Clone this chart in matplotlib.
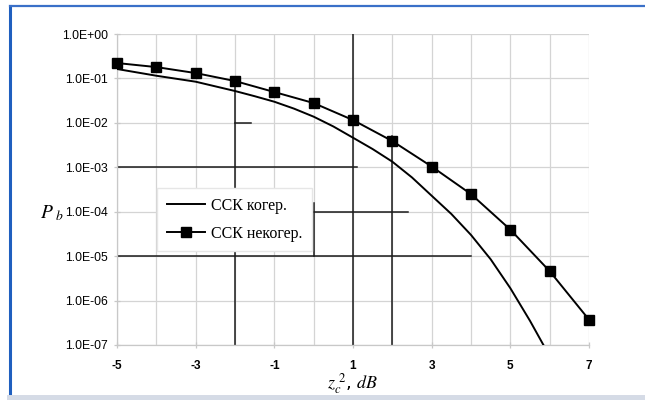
import numpy as np
import matplotlib
matplotlib.use("Agg")
import matplotlib.pyplot as plt
from matplotlib.lines import Line2D

plt.rcParams["mathtext.fontset"] = "stix"

# z_c^2, dB
snr_db = [-5, -4, -3, -2, -1, 0, 1, 2, 3, 4, 5, 6, 7]
# coherent (line only); the last point falls below the axis
coh_x = [-5, -4, -3, -2, -1.5, -1, -0.5, 0, 0.5, 1, 1.5, 2, 2.5, 3, 3.5,
         4, 4.5, 5, 5.5, 6]
coh = [0.163, 0.115, 0.0844, 0.0521, 0.0398, 0.0299, 0.0209, 0.01377, 0.0083,
       0.00463, 0.00257, 0.001336, 5.9e-4, 2.29e-4, 8.9e-5, 3.0e-5, 8.5e-6,
       1.9e-6, 3.5e-7, 5.6e-8]
# non-coherent (squares)
noncoh = [0.222, 0.18, 0.132, 0.0874, 0.0494, 0.0279, 0.01156, 0.00389,
          0.00104, 2.49e-4, 3.95e-5, 4.59e-6, 3.72e-7]

ytick_vals = [1e0, 1e-1, 1e-2, 1e-3, 1e-4, 1e-5, 1e-6, 1e-7]
ytick_labels = ["1.0E+00", "1.0E-01", "1.0E-02", "1.0E-03",
                "1.0E-04", "1.0E-05", "1.0E-06", "1.0E-07"]
xtick_vals = [-5, -3, -1, 1, 3, 5, 7]
leg_labels = ["ССК когер.", "ССК некогер."]

fig = plt.figure(figsize=(6.45, 4.0), dpi=100)
fig.patch.set_facecolor("white")

# frame of the scanned page
fig.add_artist(Line2D([0.016, 0.016], [0.0, 0.985], color="#1f5fbf", lw=2.2,
                      transform=fig.transFigure))
fig.add_artist(Line2D([0.016, 1.0], [0.984, 0.984], color="#3a70c8", lw=1.6,
                      transform=fig.transFigure))
fig.add_artist(Line2D([0.016, 1.0], [0.006, 0.006], color="#d5dbe6", lw=5,
                      transform=fig.transFigure))

ax = fig.add_axes([117 / 645, 1 - 345 / 400, (589 - 117) / 645, (345 - 34) / 400])
ax.set_yscale("log")
ax.set_xlim(-5, 7)
ax.set_ylim(1e-7, 1)

# light grid at every unit / decade
grid_c = "#d4d4d4"
for gx in range(-5, 8):
    ax.axvline(gx, color=grid_c, lw=0.9, zorder=1)
for gy in ytick_vals:
    ax.axhline(gy, color=grid_c, lw=0.9, zorder=1)

# darker scan segments of the grid
dark = "#1a1a1a"
ax.plot([-2, -2], [0.08, 1e-7], color=dark, lw=1.1, zorder=2)
ax.plot([1, 1], [1, 1e-7], color=dark, lw=1.1, zorder=2)
ax.plot([2, 2], [0.005, 1e-7], color=dark, lw=1.1, zorder=2)
ax.plot([-5, 1.1], [1e-3, 1e-3], color=dark, lw=1.1, zorder=2)
ax.plot([0, 2.4], [1e-4, 1e-4], color=dark, lw=1.1, zorder=2)
ax.plot([-5, 4.0], [1e-5, 1e-5], color=dark, lw=1.1, zorder=2)
ax.plot([-2, -1.6], [1e-2, 1e-2], color=dark, lw=1.1, zorder=2)
ax.plot([0, 0], [1.6e-4, 1e-5], color=dark, lw=1.1, zorder=2)

ax.plot(coh_x, coh, color="black", lw=1.4, zorder=4)
ax.plot(snr_db, noncoh, color="black", lw=1.4, marker="s", markersize=6.5,
        markerfacecolor="black", zorder=5, clip_on=False)

for s in ["top", "right"]:
    ax.spines[s].set_visible(False)
for s in ["left", "bottom"]:
    ax.spines[s].set_color("#c8c8c8")
    ax.spines[s].set_linewidth(0.9)

ax.set_yticks(ytick_vals)
ax.set_yticklabels(ytick_labels, fontfamily="Liberation Sans", fontsize=8.8)
ax.yaxis.set_minor_locator(matplotlib.ticker.NullLocator())
ax.set_xticks(xtick_vals)
ax.set_xticklabels([str(v) for v in xtick_vals], fontfamily="Liberation Sans",
                   fontsize=8.5, fontweight="bold")
ax.tick_params(axis="both", direction="inout", length=5, color="#c8c8c8", width=0.9)
ax.tick_params(axis="x", pad=8)
ax.tick_params(axis="y", pad=4)

ax.set_xlabel(r"$z_c^{\ 2}$, $dB$", fontsize=13, labelpad=0)
fig.text(40 / 645, 1 - 213 / 400, r"$P_{\ b}$", fontsize=14, ha="left", va="center")

handles = [Line2D([], [], color="black", lw=1.4),
           Line2D([], [], color="black", lw=1.4, marker="s", markersize=6.5)]
leg = ax.legend(handles, leg_labels, loc="upper left",
                bbox_to_anchor=((157 - 117) / 472, 1 - (188 - 34) / 311),
                prop={"family": "Liberation Serif", "size": 11.5},
                frameon=True, fancybox=False, framealpha=1, edgecolor="#e6e6e6",
                handlelength=2.4, handletextpad=0.4, borderpad=0.6,
                borderaxespad=0, labelspacing=0.75)
leg.set_zorder(6)

fig.savefig("out.png", dpi=100)
